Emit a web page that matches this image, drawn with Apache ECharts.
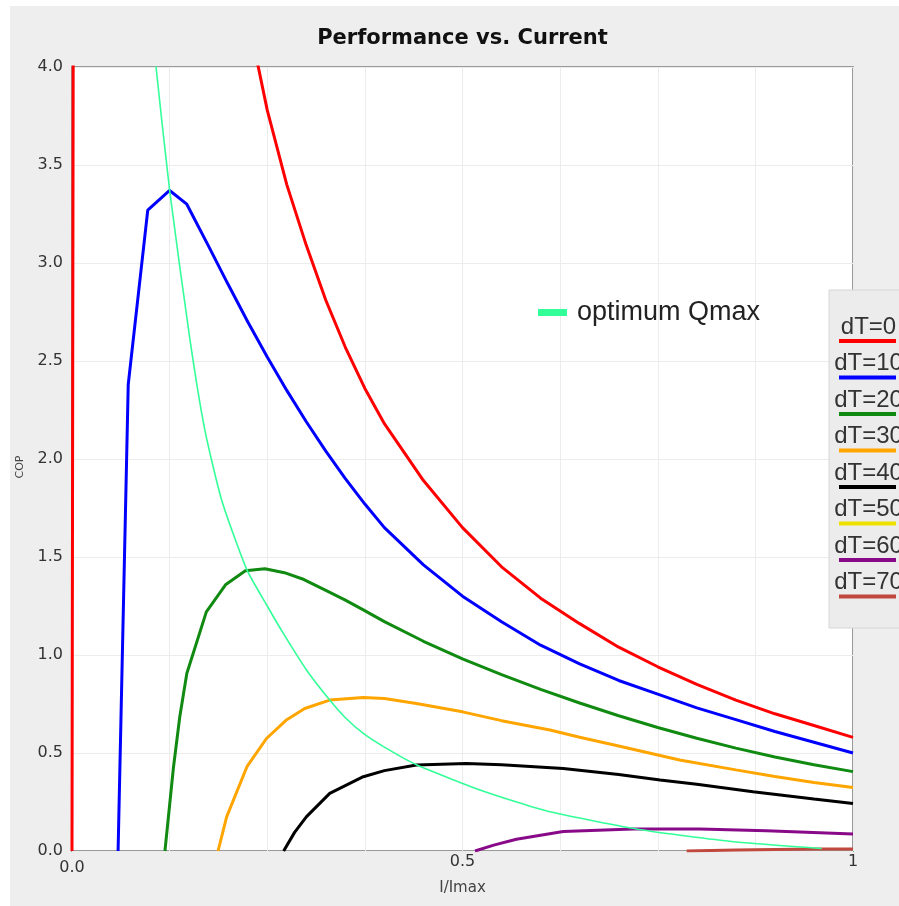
<!DOCTYPE html>
<html>
<head>
<meta charset="utf-8">
<title>Performance vs. Current</title>
<script src="https://cdn.jsdelivr.net/npm/echarts@6/dist/echarts.min.js"></script>
<style>
  html, body { margin: 0; padding: 0; background: #ffffff; }
  #chart { position: absolute; left: 10px; top: 6px; width: 889px; height: 900px; }
</style>
</head>
<body>
<div id="chart"></div>
<script>
// COP against normalised current I/Imax, one curve per temperature difference
const seriesNames = ['dT=0', 'dT=10', 'dT=20', 'dT=30', 'dT=40', 'dT=50', 'dT=60', 'dT=70'];
const optimumName = 'optimum Qmax';
const chartTitle = 'Performance vs. Current';

const dT0 = [[0, 0], [0.02, 53], [0.2, 4.85], [0.225, 4.26], [0.25, 3.78], [0.275, 3.40], [0.3, 3.09],
  [0.325, 2.81], [0.35, 2.57], [0.375, 2.36], [0.4, 2.18], [0.45, 1.89], [0.5, 1.65], [0.55, 1.45],
  [0.6, 1.29], [0.65, 1.16], [0.7, 1.04], [0.75, 0.94], [0.8, 0.85], [0.85, 0.77], [0.9, 0.70],
  [0.95, 0.64], [1.0, 0.58]];
const dT10 = [[0.059, 0], [0.072, 2.38], [0.097, 3.27], [0.125, 3.37], [0.147, 3.30], [0.175, 3.085],
  [0.2, 2.89], [0.225, 2.70], [0.25, 2.52], [0.275, 2.35], [0.3, 2.19], [0.325, 2.04], [0.35, 1.90],
  [0.375, 1.77], [0.4, 1.65], [0.45, 1.46], [0.5, 1.30], [0.55, 1.17], [0.6, 1.05], [0.65, 0.955],
  [0.7, 0.87], [0.75, 0.80], [0.8, 0.73], [0.85, 0.67], [0.9, 0.61], [0.95, 0.555], [1.0, 0.50]];
const dT20 = [[0.119, 0], [0.13, 0.43], [0.138, 0.685], [0.147, 0.906], [0.172, 1.22], [0.197, 1.36],
  [0.222, 1.43], [0.247, 1.44], [0.272, 1.42], [0.297, 1.385], [0.325, 1.33], [0.35, 1.28],
  [0.373, 1.23], [0.4, 1.17], [0.45, 1.07], [0.5, 0.98], [0.55, 0.90], [0.6, 0.825], [0.65, 0.755],
  [0.7, 0.69], [0.75, 0.63], [0.8, 0.575], [0.85, 0.525], [0.9, 0.48], [0.95, 0.44], [1.0, 0.405]];
const dT30 = [[0.187, 0], [0.198, 0.174], [0.224, 0.43], [0.249, 0.574], [0.275, 0.67], [0.298, 0.727],
  [0.33, 0.77], [0.373, 0.783], [0.4, 0.778], [0.441, 0.753], [0.5, 0.71], [0.55, 0.665],
  [0.612, 0.617], [0.65, 0.58], [0.7, 0.536], [0.778, 0.464], [0.85, 0.414], [0.9, 0.38],
  [0.95, 0.35], [1.0, 0.324]];
const dT40 = [[0.271, 0], [0.285, 0.095], [0.3, 0.174], [0.33, 0.294], [0.373, 0.379], [0.4, 0.41],
  [0.441, 0.439], [0.505, 0.447], [0.55, 0.44], [0.629, 0.421], [0.7, 0.39], [0.753, 0.362],
  [0.8, 0.34], [0.872, 0.302], [0.95, 0.265], [1.0, 0.242]];
const dT50 = [];
const dT60 = [[0.516, 0], [0.54, 0.03], [0.569, 0.06], [0.629, 0.099], [0.718, 0.112], [0.804, 0.112],
  [0.889, 0.103], [1.0, 0.087]];
const dT70 = [[0.787, 0], [0.85, 0.005], [0.9, 0.008], [0.95, 0.01], [1.0, 0.01]];
const optimumQmax = [[0.1, 4.3], [0.1076, 4.0], [0.125, 3.37], [0.151, 2.61], [0.17, 2.15],
  [0.1917, 1.79], [0.224, 1.434], [0.25, 1.25], [0.2706, 1.11], [0.3, 0.925], [0.33, 0.77],
  [0.35, 0.68], [0.373, 0.6], [0.4, 0.53], [0.441, 0.44], [0.527, 0.305], [0.612, 0.2],
  [0.731, 0.107], [0.847, 0.047], [0.96, 0.013]];

const curves = [dT0, dT10, dT20, dT30, dT40, dT50, dT60, dT70];

const xTickValues = [0, 0.5, 1];
const xTickText = ['0.0', '0.5', '1'];

const lineColors = ['#ff0000', '#0000ff', '#108a10', '#ffa500', '#000000', '#f0e000', '#880a88', '#c0483f'];
const optimumColor = '#33ff99';

const tickFont = { fontFamily: 'DejaVu Sans', fontSize: 16, color: '#333333' };

const chart = echarts.init(document.getElementById('chart'), null, { renderer: 'canvas' });

const series = curves.map((pts, k) => ({
  name: seriesNames[k],
  type: 'line',
  data: pts,
  showSymbol: false,
  symbol: 'none',
  clip: true,
  lineStyle: { color: lineColors[k], width: 3 },
  itemStyle: { color: lineColors[k] },
  z: 2
}));
series.push({
  name: optimumName,
  type: 'line',
  data: optimumQmax,
  showSymbol: false,
  symbol: 'none',
  smooth: 0.2,
  clip: true,
  lineStyle: { color: optimumColor, width: 1.6 },
  itemStyle: { color: optimumColor },
  z: 3
});

// side key: label above a coloured stroke for each dT curve
const keyX = 819, keyY = 284, keyStep = 36.5;
const graphics = [{
  type: 'rect',
  z: 100,
  shape: { x: keyX, y: keyY, width: 90, height: 338 },
  style: { fill: '#ececec', stroke: '#d6d6d6', lineWidth: 1 }
}];
seriesNames.forEach((name, k) => {
  graphics.push({
    type: 'text',
    z: 101,
    x: keyX + 39.5, y: keyY + 37 + k * keyStep,
    style: {
      text: name, fill: '#333333', font: '24px "Liberation Sans", Arial, sans-serif',
      textAlign: 'center', textVerticalAlign: 'middle'
    }
  });
  graphics.push({
    type: 'line',
    z: 101,
    shape: { x1: keyX + 10, y1: keyY + 51 + k * keyStep, x2: keyX + 67, y2: keyY + 51 + k * keyStep },
    style: { stroke: lineColors[k], lineWidth: 4 }
  });
});
graphics.push({
  type: 'text',
  z: 101,
  x: 452.5, y: 33,
  style: {
    text: chartTitle, fill: '#111111', font: 'bold 21px "DejaVu Sans", Verdana, sans-serif',
    textAlign: 'center', textVerticalAlign: 'middle'
  }
});

chart.setOption({
  animation: false,
  backgroundColor: '#eeeeee',
  legend: {
    data: [optimumName],
    left: 528,
    top: 293,
    padding: 0,
    icon: 'rect',
    itemWidth: 29,
    itemHeight: 7,
    textStyle: { fontFamily: 'Liberation Sans', fontSize: 27, color: '#222222', padding: [0, 0, 0, 5] }
  },
  grid: {
    left: 62, top: 61, right: 46, bottom: 55,
    containLabel: false,
    outerBoundsMode: 'none',
    show: true, backgroundColor: '#ffffff', borderColor: '#9a9a9a', borderWidth: 2
  },
  xAxis: {
    type: 'value',
    min: 0, max: 1, interval: 0.125,
    name: 'I/Imax',
    nameLocation: 'middle',
    nameGap: 22,
    nameTextStyle: { fontFamily: 'DejaVu Sans', fontSize: 15, color: '#444444' },
    axisLine: { show: false },
    axisTick: { show: false },
    splitLine: { show: true, lineStyle: { color: '#ececec', width: 1 } },
    axisLabel: Object.assign({
      margin: 3,
      showMinLabel: true, showMaxLabel: true,
      formatter: (v) => {
        const idx = xTickValues.indexOf(v);
        if (idx < 0) return '';
        return idx === 0 ? '{low|' + xTickText[idx] + '}' : xTickText[idx];
      },
      rich: { low: Object.assign({ padding: [6, 0, 0, 0] }, tickFont) }
    }, tickFont)
  },
  yAxis: {
    type: 'value',
    min: 0, max: 4, interval: 0.5,
    name: 'COP',
    nameLocation: 'middle',
    nameGap: 46,
    nameRotate: 90,
    nameTextStyle: { fontFamily: 'DejaVu Sans', fontSize: 11, color: '#444444', padding: [0, 16, 0, 0] },
    axisLine: { show: false },
    axisTick: { show: false },
    splitLine: { show: true, lineStyle: { color: '#ececec', width: 1 } },
    axisLabel: Object.assign({ margin: 9, formatter: (v) => v.toFixed(1) }, tickFont)
  },
  graphic: graphics,
  series: series
});
</script>
</body>
</html>
